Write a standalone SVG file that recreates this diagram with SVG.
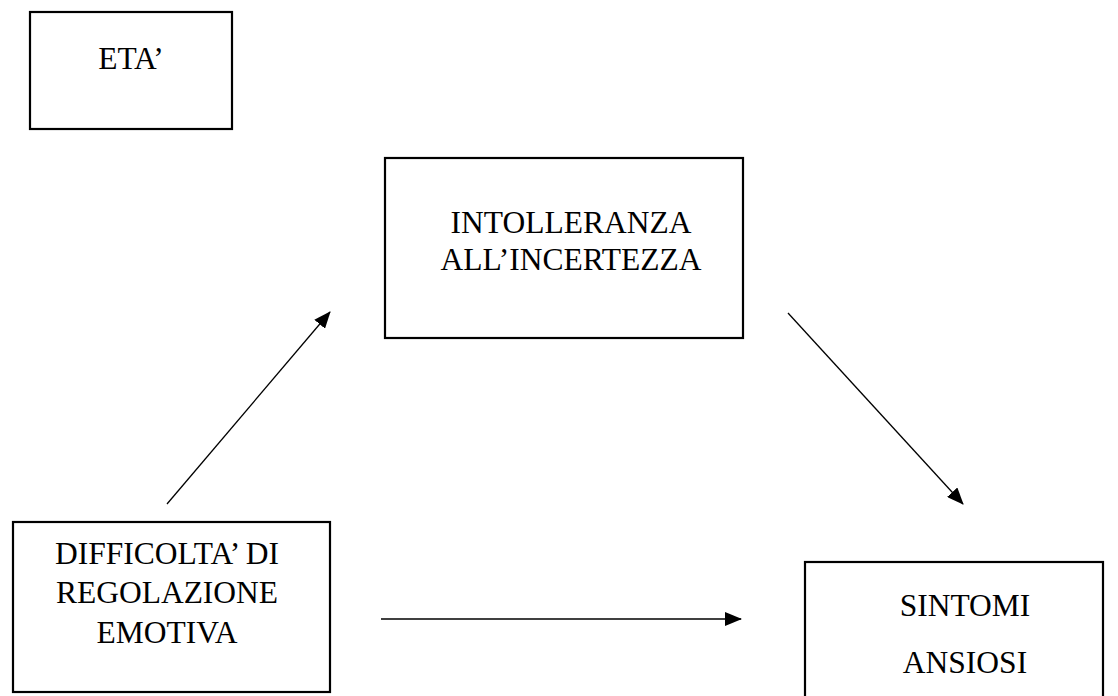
<svg xmlns="http://www.w3.org/2000/svg" width="1118" height="696" viewBox="0 0 1118 696">
<style>
.box{fill:#fff;stroke:#000;stroke-width:2.2}
.t{font-family:"Liberation Serif","Times New Roman",serif;font-size:31.5px;fill:#000;text-anchor:middle}
.c{stroke:#000;stroke-width:1.3;fill:none;marker-end:url(#ah)}
</style>
<defs>
<marker id="ah" markerWidth="17" markerHeight="14" refX="16" refY="7" orient="auto" markerUnits="userSpaceOnUse" viewBox="0 0 17 14">
<path d="M0,0 L17,7 L0,14 Z" fill="#000"/>
</marker>
</defs>
<rect width="1118" height="696" fill="#fff"/>
<g id="eta">
<rect class="box" x="30" y="12" width="202" height="117"/>
<text class="t" x="131" y="69">ETA’</text>
</g>
<g id="intolleranza">
<rect class="box" x="385" y="158" width="358" height="180"/>
<text class="t" x="571" y="233">INTOLLERANZA</text>
<text class="t" x="571" y="270">ALL’INCERTEZZA</text>
</g>
<g id="difficolta">
<rect class="box" x="13" y="522" width="317" height="170"/>
<text class="t" x="167" y="564">DIFFICOLTA’ DI</text>
<text class="t" x="167" y="603">REGOLAZIONE</text>
<text class="t" x="167" y="643">EMOTIVA</text>
</g>
<g id="sintomi">
<rect class="box" x="805" y="562" width="298" height="150"/>
<text class="t" x="965" y="616">SINTOMI</text>
<text class="t" x="965" y="673">ANSIOSI</text>
</g>
<g id="connectors">
<line class="c" x1="167" y1="504" x2="330" y2="312"/>
<line class="c" x1="788" y1="313" x2="963" y2="504"/>
<line class="c" x1="381" y1="619" x2="741" y2="619"/>
</g>
</svg>
